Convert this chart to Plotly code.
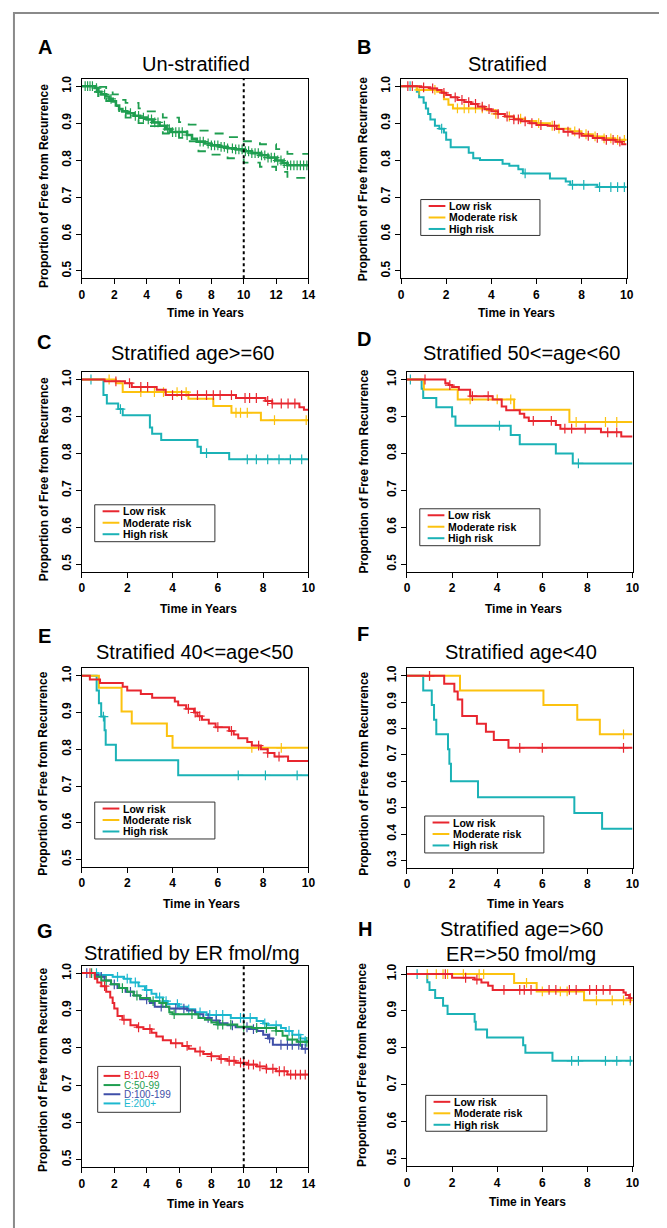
from bisect import bisect_right

import plotly.graph_objects as go

# ─── Data (step times / survival) ────────────────────────────────────────────

A_t = [0, 0.8, 1.0, 1.2, 1.5, 1.7, 1.9, 2.1, 2.3, 2.5, 2.8, 3.2, 3.6, 4.0, 4.4, 4.8, 5.2, 5.5,
       6.5, 6.8, 7.1, 7.6, 8.0, 8.5, 9.0, 9.5, 10.0, 10.5, 11.0, 11.5, 12.0, 12.4, 12.7]
A_s = [1, .995, .985, .978, .972, .966, .959, .948, .938, .932, .927, .92, .915, .91, .902, .893, .884, .876,
       .868, .858, .85, .845, .84, .836, .832, .829, .824, .819, .813, .807, .799, .792, .786]
A_up_t = [0, 1.0, 1.5, 1.9, 2.3, 2.7, 3.5, 4.0, 5.0, 6.0, 6.6, 7.2, 8.0, 9.0, 10.0, 11.0, 12.0, 12.7]
A_up_s = [1, .998, .99, .978, .963, .955, .94, .932, .915, .903, .896, .88, .872, .862, .851, .843, .83, .817]
A_lo_t = [0, 0.8, 1.0, 1.5, 1.9, 2.3, 2.7, 3.5, 4.0, 5.0, 6.0, 6.6, 7.2, 8.0, 9.0, 10.0, 11.0, 12.0, 12.7]
A_lo_s = [1, .985, .97, .96, .946, .925, .915, .9, .892, .872, .86, .851, .824, .815, .805, .793, .782, .768, .752]
A_cens = [0.2, 0.35, 0.5, 0.65, 0.9, 1.05, 1.4, 1.8, 2.7, 3.0, 3.3, 3.5, 3.8, 4.1, 4.3, 4.5, 4.7, 5.1, 5.3,
          5.4, 5.6, 5.8, 6.0, 6.2, 6.5, 7.3, 7.5, 7.8, 8.0, 8.2, 8.4, 8.6, 8.8, 9.0, 9.3, 9.5, 9.7, 9.9,
          10.1, 10.3, 10.5, 10.7, 10.9, 11.1, 11.3, 11.5, 11.7, 11.9, 12.1, 12.3, 12.5, 12.7, 12.9, 13.1,
          13.3, 13.5, 13.7, 13.9]

B_low_t = [0, 0.9, 1.3, 1.6, 1.8, 2.0, 2.2, 2.5, 2.8, 3.1, 3.4, 3.7, 4.0, 4.3, 4.6, 5.0, 5.3, 5.7, 6.0,
           6.5, 6.9, 7.2, 7.6, 8.0, 8.5, 9.0, 9.5, 9.8]
B_low_s = [1, .997, .994, .99, .982, .976, .97, .963, .957, .952, .945, .938, .932, .925, .918, .91, .905, .9,
           .895, .893, .884, .877, .872, .866, .86, .855, .85, .843]
B_low_cens = [0.3, 0.5, 1.0, 1.4, 1.9, 2.4, 2.7, 3.0, 3.3, 3.6, 3.9, 4.3, 4.7, 5.0, 5.2, 5.5, 5.8, 6.2,
              6.8, 7.4, 7.9, 8.3, 8.7, 9.1, 9.4, 9.7]
B_mod_t = [0, 0.7, 1.6, 1.9, 2.1, 2.3, 3.8, 4.2, 4.6, 5.0, 5.5, 6.0, 6.6, 7.0, 7.5, 8.0, 8.5, 9.0, 9.5]
B_mod_s = [1, .99, .985, .965, .95, .94, .935, .925, .918, .912, .906, .9, .893, .885, .878, .87, .864, .859, .855]
B_mod_cens = [0.8, 1.5, 2.5, 2.8, 3.0, 3.3, 3.6, 4.2, 4.8, 5.3, 6.1, 6.7, 7.0, 7.7, 8.2, 8.6, 9.0, 9.3, 9.6, 9.9]
B_high_t = [0, 0.7, 0.8, 1.0, 1.1, 1.2, 1.3, 1.5, 1.7, 1.9, 2.0, 2.2, 3.0, 3.2, 3.5, 4.5, 4.8, 5.2, 5.4,
            6.6, 7.3, 7.5, 8.7]
B_high_s = [1, .985, .97, .955, .94, .925, .91, .893, .885, .875, .855, .835, .82, .805, .8, .79, .785, .775, .764,
            .75, .742, .733, .727]
B_high_cens = [0.4, 1.8, 5.5, 7.6, 8.1, 8.8, 9.3, 9.6, 9.9]

C_low_t = [0, 1.0, 1.9, 2.2, 3.3, 3.7, 6.8, 8.1, 8.4, 9.6, 9.8]
C_low_s = [1, .995, .99, .98, .972, .958, .95, .942, .935, .925, .918]
C_low_cens = [1.5, 2.1, 2.6, 2.9, 4.0, 4.4, 5.1, 5.5, 5.8, 6.1, 6.6, 7.2, 7.4, 7.7, 8.2, 8.4, 8.8, 9.1, 9.4]
C_mod_t = [0, 1.5, 1.8, 4.7, 5.8, 6.6, 7.9]
C_mod_s = [1, .99, .966, .948, .928, .91, .89]
C_mod_cens = [1.2, 2.6, 3.2, 3.6, 4.2, 4.6, 6.8, 7.0, 7.3, 8.5, 9.9]
C_high_t = [0, 0.95, 1.1, 1.6, 1.8, 3.0, 3.1, 3.5, 5.1, 5.25, 6.5]
C_high_s = [1, .958, .935, .92, .903, .87, .853, .836, .818, .801, .784]
C_high_cens = [0.4, 1.7, 5.5, 7.3, 7.7, 8.2, 8.7, 9.2, 9.7]

D_low_t = [0, 1.7, 1.85, 2.0, 2.3, 2.8, 3.8, 4.2, 4.4, 5.0, 5.2, 5.4, 6.6, 6.8, 8.6, 9.5]
D_low_s = [1, .99, .985, .98, .972, .955, .946, .927, .917, .907, .897, .888, .877, .867, .857, .846]
D_low_cens = [0.8, 1.9, 2.9, 3.6, 5.6, 6.4, 7.0, 7.3, 7.9, 8.9, 9.3]
D_mod_t = [0, 0.75, 2.25, 4.75, 7.2]
D_mod_s = [1, .973, .946, .918, .885]
D_mod_cens = [2.8, 4.0, 4.6, 7.5, 8.8, 9.3]
D_high_t = [0, 0.65, 0.72, 1.3, 2.0, 2.15, 4.6, 5.0, 6.6, 7.35]
D_high_s = [1, .975, .95, .925, .9, .875, .85, .825, .8, .773]
D_high_cens = [0.15, 4.1, 7.6]

E_low_t = [0, 0.35, 0.8, 1.8, 2.0, 2.6, 3.1, 4.1, 4.25, 4.6, 4.95, 5.1, 5.3, 5.6, 5.9, 6.5, 6.7, 6.9,
           7.3, 7.5, 7.9, 8.2, 8.5, 9.1]
E_low_s = [1, .99, .98, .97, .96, .95, .94, .93, .92, .91, .9, .89, .88, .87, .86, .85, .84, .83,
           .82, .81, .8, .79, .78, .768]
E_low_cens = [4.7, 5.0, 5.2, 6.0, 6.6, 7.8, 8.2, 8.7]
E_mod_t = [0, 0.75, 1.75, 2.2, 3.75, 4.0]
E_mod_s = [1, .967, .903, .87, .836, .804]
E_mod_cens = [7.5, 8.8]
E_high_t = [0, 0.65, 0.75, 0.85, 1.0, 1.05, 1.5, 4.25]
E_high_s = [1, .96, .925, .889, .852, .812, .77, .729]
E_high_cens = [0.95, 6.9, 8.1, 9.5]

F_low_t = [0, 1.65, 2.1, 2.25, 2.45, 3.1, 3.5, 3.85, 4.5]
F_low_s = [1, .97, .94, .91, .848, .818, .788, .757, .727]
F_low_cens = [1.0, 5.0, 6.0, 9.6]
F_mod_t = [0, 2.35, 6.05, 7.55, 8.55]
F_mod_s = [1, .944, .889, .833, .778]
F_mod_cens = [1.0, 9.6]
F_high_t = [0, 0.72, 1.1, 1.2, 1.3, 1.82, 1.88, 1.95, 3.15, 7.42, 8.65]
F_high_s = [1, .944, .889, .833, .778, .722, .667, .6, .54, .48, .42]
F_high_cens = []

G_b_t = [0, 0.8, 0.95, 1.2, 1.5, 1.75, 1.9, 2.0, 2.2, 2.5, 3.0, 3.4, 3.8, 4.3, 4.6, 5.0, 5.5, 6.2, 6.6,
         7.0, 7.5, 8.0, 8.5, 9.0, 9.5, 10.2, 10.8, 11.4, 12.0, 12.7]
G_b_s = [1, .985, .975, .965, .95, .935, .92, .905, .885, .875, .86, .855, .85, .84, .83, .82, .812, .805, .797,
         .79, .783, .777, .77, .765, .76, .755, .75, .744, .737, .728]
G_b_cens = [0.5, 1.4, 2.6, 3.5, 4.2, 5.8, 6.5, 7.3, 8.0, 8.6, 9.1, 9.4, 9.8, 10.0, 10.3, 10.6, 11.0, 11.4,
            11.8, 12.2, 12.5, 12.9, 13.2, 13.5, 13.8]
G_c_t = [0, 0.8, 1.2, 1.8, 2.3, 2.8, 3.2, 3.6, 4.2, 4.8, 5.2, 5.4, 5.6, 7.2, 7.6, 8.0, 8.4, 9.6, 10.5,
         12.0, 12.4, 12.7, 13.3]
G_c_s = [1, .99, .98, .97, .96, .95, .94, .933, .925, .92, .91, .895, .89, .88, .875, .868, .862, .856, .853,
         .845, .832, .822, .816]
G_c_cens = [0.6, 1.5, 2.5, 3.4, 4.4, 5.0, 5.7, 6.8, 8.4, 8.7, 9.2, 10.0, 10.8, 11.4, 12.0, 13.0, 13.5, 13.9]
G_d_t = [0, 0.8, 1.0, 1.4, 1.8, 2.2, 2.7, 3.2, 3.6, 4.2, 4.5, 5.4, 6.5, 7.0, 7.5, 8.0, 8.5, 9.0, 9.5,
         10.3, 10.8, 11.2, 11.5, 11.8, 13.6]
G_d_s = [1, .995, .99, .98, .97, .96, .95, .94, .93, .92, .91, .905, .9, .89, .88, .873, .866, .86, .855,
         .85, .845, .835, .825, .808, .797]
G_d_cens = [0.3, 1.2, 2.0, 3.0, 4.0, 4.9, 5.8, 6.3, 7.8, 8.3, 9.3, 10.2, 10.6, 11.6, 12.3, 12.7, 13.0, 13.4, 13.8]
G_e_t = [0, 1.0, 1.9, 2.6, 3.0, 3.5, 3.9, 4.3, 4.6, 5.0, 5.3, 6.0, 6.5, 7.0, 7.7, 9.2, 10.8, 11.2, 11.5,
         12.3, 12.6, 13.0, 13.5, 13.8]
G_e_s = [1, .995, .99, .985, .975, .965, .955, .945, .935, .925, .917, .91, .903, .895, .888, .88, .872, .865, .86,
         .853, .845, .835, .825, .818]
G_e_cens = [0.9, 2.2, 2.8, 3.3, 4.0, 4.8, 5.2, 5.9, 6.6, 7.3, 7.9, 8.3, 8.7, 9.8, 10.0, 10.4, 11.3, 12.0,
            12.8, 13.4, 13.8]

H_low_t = [0, 2.0, 3.0, 3.3, 3.6, 3.8, 9.6, 9.7, 9.85]
H_low_s = [1, .99, .985, .977, .968, .957, .95, .943, .935]
H_low_cens = [1.7, 2.6, 3.1, 4.3, 5.0, 5.2, 5.5, 6.3, 6.6, 7.2, 7.5, 8.1, 8.4, 8.7, 9.0, 9.9]
H_mod_t = [0, 4.75, 5.75, 7.85]
H_mod_s = [1, .976, .953, .929]
H_mod_cens = [0.9, 1.3, 1.6, 1.8, 2.5, 3.2, 3.4, 5.3, 6.0, 6.8, 7.1, 8.4, 9.1, 9.6, 9.9]
H_high_t = [0, 0.9, 1.0, 1.25, 1.6, 1.8, 3.0, 3.05, 3.55, 5.15, 5.25, 6.45]
H_high_s = [1, .978, .957, .935, .914, .892, .871, .85, .828, .807, .787, .765]
H_high_cens = [0.45, 7.3, 7.6, 8.8, 9.3, 9.9]

RISK_LABELS = ["Low risk", "Moderate risk", "High risk"]
ER_LABELS = ["B:10-49", "C:50-99", "D:100-199", "E:200+"]
CUTOFF_YEARS = 10

# ─── Styling ────────────────────────────────────────────────────────────────

W, H = 667, 1228
FONT = "Liberation Sans, Arial, sans-serif"
RED, YEL, TEAL = "#e8262f", "#fcc20f", "#1bb2b6"
GREEN, BLUE, CYAN = "#1f9e50", "#3f4fa8", "#1cb8cf"


def px(x):
    return x / W


def py(y):
    return 1 - y / H


# plot boxes in page pixels: (left, top, right, bottom)
PANELS = [
    dict(letter="A", box=(72, 68, 302, 268), xmax=14, ymin=0.5),
    dict(letter="B", box=(396, 68, 625, 268), xmax=10, ymin=0.5),
    dict(letter="C", box=(72, 362, 302, 562), xmax=10, ymin=0.5),
    dict(letter="D", box=(402, 362, 631, 562), xmax=10, ymin=0.5),
    dict(letter="E", box=(72, 659, 302, 858), xmax=10, ymin=0.5),
    dict(letter="F", box=(402, 659, 631, 859), xmax=10, ymin=0.3),
    dict(letter="G", box=(72, 957, 302, 1159), xmax=14, ymin=0.5),
    dict(letter="H", box=(402, 958, 631, 1158), xmax=10, ymin=0.5),
]

fig = go.Figure()


def step_at(times, surv, t):
    return surv[bisect_right(times, t) - 1]


def km(i, times, surv, cens, color, end, width=2.0, dash="solid", marks=True):
    ax = "" if i == 0 else str(i + 1)
    fig.add_trace(go.Scatter(
        x=times + [end], y=surv + [surv[-1]], xaxis="x" + ax, yaxis="y" + ax,
        mode="lines", line=dict(color=color, width=width, dash=dash, shape="hv"),
        showlegend=False, hoverinfo="skip",
    ))
    if marks and cens:
        fig.add_trace(go.Scatter(
            x=cens, y=[step_at(times, surv, c) for c in cens], xaxis="x" + ax, yaxis="y" + ax,
            mode="markers", marker=dict(symbol="cross-thin", size=7, line=dict(color=color, width=1.2)),
            showlegend=False, hoverinfo="skip",
        ))


# A
km(0, A_up_t, A_up_s, [], GREEN, 14, width=1.8, dash="dash", marks=False)
km(0, A_lo_t, A_lo_s, [], GREEN, 14, width=1.8, dash="dash", marks=False)
km(0, A_t, A_s, A_cens, GREEN, 14, width=2.6)

risk_sets = [
    (1, [(B_low_t, B_low_s, B_low_cens), (B_mod_t, B_mod_s, B_mod_cens), (B_high_t, B_high_s, B_high_cens)]),
    (2, [(C_low_t, C_low_s, C_low_cens), (C_mod_t, C_mod_s, C_mod_cens), (C_high_t, C_high_s, C_high_cens)]),
    (3, [(D_low_t, D_low_s, D_low_cens), (D_mod_t, D_mod_s, D_mod_cens), (D_high_t, D_high_s, D_high_cens)]),
    (4, [(E_low_t, E_low_s, E_low_cens), (E_mod_t, E_mod_s, E_mod_cens), (E_high_t, E_high_s, E_high_cens)]),
    (5, [(F_low_t, F_low_s, F_low_cens), (F_mod_t, F_mod_s, F_mod_cens), (F_high_t, F_high_s, F_high_cens)]),
    (7, [(H_low_t, H_low_s, H_low_cens), (H_mod_t, H_mod_s, H_mod_cens), (H_high_t, H_high_s, H_high_cens)]),
]
for i, curves in risk_sets:
    # high risk first so red/yellow sit on top like the original
    for (t, s, c), col in reversed(list(zip(curves, [RED, YEL, TEAL]))):
        km(i, t, s, c, col, PANELS[i]["xmax"])

for t, s, c, col in [(G_e_t, G_e_s, G_e_cens, CYAN), (G_d_t, G_d_s, G_d_cens, BLUE),
                     (G_c_t, G_c_s, G_c_cens, GREEN), (G_b_t, G_b_s, G_b_cens, RED)]:
    km(6, t, s, c, col, 14)

# ─── Axes ───────────────────────────────────────────────────────────────────

layout_axes = {}
for i, p in enumerate(PANELS):
    l, t, r, b = p["box"]
    ax = "" if i == 0 else str(i + 1)
    span = 1.0 - p["ymin"]
    common = dict(
        ticks="outside", ticklen=5, tickwidth=1, tickcolor="black",
        showline=True, linecolor="black", linewidth=1, mirror=True,
        showgrid=False, zeroline=False,
        tickfont=dict(family=FONT, size=12, color="black", weight="bold"),
    )
    layout_axes["xaxis" + ax] = dict(
        domain=[px(l), px(r)], range=[0, p["xmax"]], anchor="y" + ax,
        tickvals=list(range(0, p["xmax"] + 1, 2)), **common,
    )
    yt = [round(p["ymin"] + 0.1 * k, 1) for k in range(int(round(span * 10)) + 1)]
    layout_axes["yaxis" + ax] = dict(
        domain=[py(b), py(t)], range=[p["ymin"] - 0.04 * span, 1.0 + 0.04 * span], anchor="x" + ax,
        tickvals=yt, ticktext=[f"{v:.1f}" for v in yt], tickangle=-90, **common,
    )

fig.update_layout(
    width=W, height=H, margin=dict(l=0, r=0, t=0, b=0),
    paper_bgcolor="white", plot_bgcolor="white", showlegend=False,
    font=dict(family=FONT, color="black"),
    **layout_axes,
)

# ─── Text ───────────────────────────────────────────────────────────────────

ann = []


def text(x, y, s, size, bold=False, color="black", angle=0, anchor="center"):
    ann.append(dict(
        x=px(x), y=py(y), xref="paper", yref="paper", text=s, showarrow=False,
        xanchor=anchor, yanchor="middle", textangle=angle,
        font=dict(family=FONT, size=size, color=color, weight="bold" if bold else "normal"),
    ))


letters = [("A", 35, 36), ("B", 358, 36), ("C", 34, 332), ("D", 358, 329),
           ("E", 34, 627), ("F", 357, 625), ("G", 35, 922), ("H", 359, 920)]
for s, x, y in letters:
    text(x, y, s, 20, bold=True)

titles = [("Un-stratified", 188, 53), ("Stratified", 504, 53), ("Stratified age>=60", 184, 343),
          ("Stratified 50<=age<60", 518, 343), ("Stratified 40<=age<50", 186, 643),
          ("Stratified age<40", 518, 643), ("Stratified by ER fmol/mg", 184, 944),
          ("Stratified age=>60", 518, 920), ("ER=>50 fmol/mg", 518, 945)]
for s, x, y in titles:
    text(x, y, s, 20)

xlab = [(197, 303), (513, 303), (190, 599), (520, 599), (193, 895), (522, 895), (197, 1196), (524, 1194)]
for x, y in xlab:
    text(x, y, "Time in Years", 12, bold=True)

ylab = [(33, 176), (357, 169), (33, 470), (358, 462), (33, 765), (358, 765), (33, 1062), (357, 1057)]
for x, y in ylab:
    text(x, y, "Proportion of Free from Recurrence", 12, bold=True, angle=-90)

shapes = [dict(type="rect", xref="paper", yref="paper", x0=px(3), y0=py(2), x1=px(664), y1=py(1225),
               line=dict(color="#8a8a8a", width=2))]

# dotted 10-year reference lines in A and G
for ax in ["", "7"]:
    shapes.append(dict(type="line", xref="x" + ax, yref="y" + ax + " domain", x0=CUTOFF_YEARS, x1=CUTOFF_YEARS,
                       y0=0, y1=1, line=dict(color="black", width=2, dash="dot")))

# legends drawn by hand (R-style compact boxes)
legend_boxes = [
    ((416, 189, 537, 225), RISK_LABELS, [RED, YEL, TEAL]),
    ((85, 495, 207, 532), RISK_LABELS, [RED, YEL, TEAL]),
    ((415, 499, 537, 536), RISK_LABELS, [RED, YEL, TEAL]),
    ((85, 793, 207, 830), RISK_LABELS, [RED, YEL, TEAL]),
    ((420, 807, 541, 844), RISK_LABELS, [RED, YEL, TEAL]),
    ((421, 1087, 544, 1123), RISK_LABELS, [RED, YEL, TEAL]),
]
for (l, t, r, b), labels, cols in legend_boxes:
    shapes.append(dict(type="rect", xref="paper", yref="paper", x0=px(l), y0=py(t), x1=px(r), y1=py(b),
                       line=dict(color="#333", width=1), fillcolor="white"))
    for k, (lab, col) in enumerate(zip(labels, cols)):
        yy = t + 6.5 + 11.5 * k
        shapes.append(dict(type="line", xref="paper", yref="paper", x0=px(l + 8), x1=px(l + 25),
                           y0=py(yy), y1=py(yy), line=dict(color=col, width=2)))
        text(l + 27, yy, lab, 10.5, bold=True, anchor="left")

l, t, r, b = 88, 1058, 172, 1104
shapes.append(dict(type="rect", xref="paper", yref="paper", x0=px(l), y0=py(t), x1=px(r), y1=py(b),
                   line=dict(color="#333", width=1), fillcolor="white"))
for k, (lab, col) in enumerate(zip(ER_LABELS, [RED, GREEN, BLUE, CYAN])):
    yy = t + 9.5 + 9.2 * k
    shapes.append(dict(type="line", xref="paper", yref="paper", x0=px(l + 6), x1=px(l + 23),
                       y0=py(yy), y1=py(yy), line=dict(color=col, width=2)))
    text(l + 25, yy, lab, 10, color=col, anchor="left")

fig.update_layout(annotations=ann, shapes=shapes)

fig.write_html("out.html")
